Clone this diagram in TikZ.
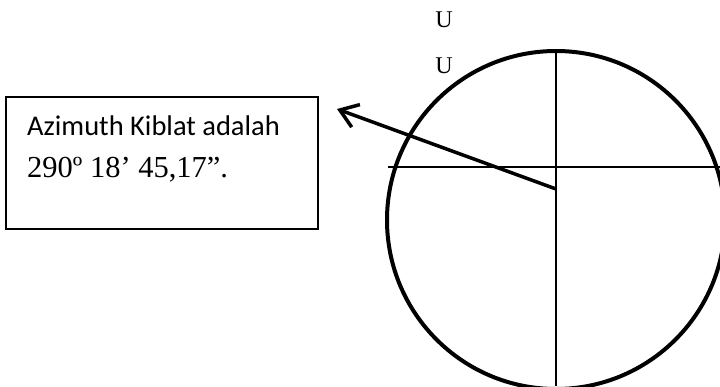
\documentclass[tikz,border=0pt]{standalone}
\usepackage{fontspec}
\setmainfont{Liberation Serif}
\newfontfamily\calibri{Carlito}
\usetikzlibrary{arrows.meta}

\begin{document}
\begin{tikzpicture}[x=1pt,y=-1pt]
\useasboundingbox (0,0) rectangle (720,386);
% compass circle and axes
\begin{scope}
\clip (0,0) rectangle (720,386);
\draw[line width=4pt] (556,220) circle (169);
\end{scope}
\draw[line width=1.5pt] (556,53) -- (556,386);
\draw[line width=1.5pt] (388,167) -- (720,167);
% north labels
\node[font=\fontsize{24}{27}\selectfont] (u1) at (444,20) {U};
\node[font=\fontsize{24}{27}\selectfont] (u2) at (444,66) {U};
% qibla box
\draw[line width=1.2pt] (6,97) rectangle (318,229);
\node[anchor=base west,inner sep=0pt,font=\calibri\fontsize{28.5}{32}\selectfont] (az) at (27,135) {Azimuth Kiblat adalah};
\node[anchor=base west,inner sep=0pt,font=\fontsize{30.5}{35}\selectfont] (val) at (27,177) {290º 18’ 45,17”.};
% qibla direction
\coordinate (tail) at (556,189);
\coordinate (tip) at (337,109);
\draw[line width=3.5pt,-{Straight Barb[length=17pt,width=24pt]}] (tail) -- (tip);
\end{tikzpicture}
\end{document}
